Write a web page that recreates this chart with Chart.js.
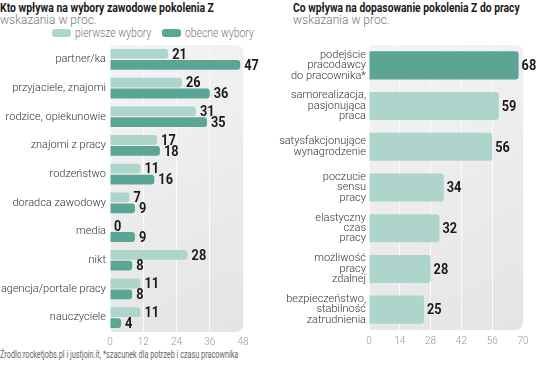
<!DOCTYPE html>
<html><head><meta charset="utf-8">
<script src="https://cdn.jsdelivr.net/npm/chart.js@4/dist/chart.umd.min.js"></script>
<style>
html,body{margin:0;padding:0;background:#fff;}
body{width:536px;height:380px;position:relative;overflow:hidden;font-family:Roboto,sans-serif;}
.t{position:absolute;font-weight:bold;font-size:12.5px;color:#1a1a1a;white-space:nowrap;transform-origin:0 0;}
.s{position:absolute;font-size:12px;color:#777;white-space:nowrap;font-weight:300;}
.legend{position:absolute;left:52px;top:27px;height:12px;display:flex;align-items:center;}
.sw{display:block;width:19px;height:8px;border-radius:3px;flex:none;}
.lbox{display:block;height:12px;position:relative;flex:none;margin-left:4px;}
.lg{position:absolute;left:0;top:-2px;font-size:12.5px;line-height:16px;color:#777;font-weight:300;white-space:nowrap;transform-origin:0 0;}
.src{position:absolute;left:0;top:349px;font-size:10px;color:#666;white-space:nowrap;transform-origin:0 0;}
canvas{position:absolute;}
</style></head><body>
<div class="t" style="left:0;top:0;">Kto wpływa na wybory zawodowe pokolenia Z</div>
<div class="s" style="left:0;top:13px;">wskazania w proc.</div>
<div class="t" style="left:293px;top:0;">Co wpływa na dopasowanie pokolenia Z do pracy</div>
<div class="s" style="left:293px;top:13px;">wskazania w proc.</div>
<div class="legend">
  <span class="sw" style="background:#aed5cc"></span>
  <span class="lbox" style="width:76px;"><span class="lg" id="lg1"></span></span>
  <span class="sw" style="background:#5aa594;margin-left:11px;"></span>
  <span class="lbox" style="width:69px;"><span class="lg" id="lg2"></span></span>
</div>
<div class="src" id="src">Źrodło:rocketjobs.pl i justjoin.it, *szacunek dla potrzeb i czasu pracownika</div>
<div style="position:absolute;left:0;top:0;width:268px;height:352px;"><canvas id="c1"></canvas></div>
<div style="position:absolute;left:270px;top:0;width:266px;height:352px;"><canvas id="c2"></canvas></div>
<script>
// ---- data ----
const leftCategories = ["partner/ka","przyjaciele, znajomi","rodzice, opiekunowie","znajomi z pracy","rodzeństwo","doradca zawodowy","media","nikt","agencja/portale pracy","nauczyciele"];
const firstChoice = [21,26,31,17,11,7,0,28,11,11];
const currentChoice = [47,36,35,18,16,9,9,8,8,4];
const seriesNames = ["pierwsze wybory","obecne wybory"];
const leftTicks = [0,12,24,36,48];

const rightCategories = [["podejście","pracodawcy","do pracownika*"],["samorealizacja,","pasjonująca","praca"],["satysfakcjonujące","wynagrodzenie"],["poczucie","sensu","pracy"],["elastyczny","czas","pracy"],["możliwość","pracy","zdalnej"],["bezpieczeństwo,","stabilność","zatrudnienia"]];
const rightValues = [68,59,56,34,32,28,25];
const rightTicks = [0,14,28,42,56,70];

const LIGHT = "#aed5cc", DARK = "#5aa594";
document.getElementById('lg1').textContent = seriesNames[0];
document.getElementById('lg2').textContent = seriesNames[1];

// fit titles / source / legend texts to reference widths
function fitW(el, w){ const r = el.scrollWidth; if(r>0) el.style.transform = "scaleX(" + (w/r) + ")"; }
const ts = document.querySelectorAll('.t');
fitW(ts[0], 214); fitW(ts[1], 227);
fitW(document.getElementById('src'), 238);
fitW(document.getElementById('lg1'), 76);
fitW(document.getElementById('lg2'), 69);

const panelPlugin = {
  id:'panel',
  beforeDraw(chart){
    const {ctx, chartArea:a} = chart;
    ctx.save();
    const g = ctx.createLinearGradient(a.left, a.top, a.right, a.bottom);
    g.addColorStop(0, "#f4f4f4"); g.addColorStop(1, "#e4e4e4");
    ctx.fillStyle = g;
    const r = 8, x=a.left, y=a.top, w=a.right-a.left, h=a.bottom-a.top;
    ctx.beginPath();
    ctx.moveTo(x, y); ctx.lineTo(x+w-r, y); ctx.quadraticCurveTo(x+w, y, x+w, y+r);
    ctx.lineTo(x+w, y+h-r); ctx.quadraticCurveTo(x+w, y+h, x+w-r, y+h);
    ctx.lineTo(x, y+h); ctx.closePath();
    ctx.fill();
    ctx.restore();
  }
};
const labelPlugin = {
  id:'vals',
  afterDatasetsDraw(chart, args, opts){
    const ctx = chart.ctx;
    ctx.save();
    ctx.fillStyle = "#1a1a1a";
    ctx.textBaseline = "middle";
    ctx.textAlign = "left";
    chart.data.datasets.forEach((ds, di) => {
      const meta = chart.getDatasetMeta(di);
      meta.data.forEach((bar, i) => {
        const v = ds.data[i];
        ctx.save();
        ctx.translate(bar.x + opts.gap, bar.y + 1);
        ctx.scale(opts.sx, 1);
        ctx.font = "bold " + opts.size + "px Roboto, sans-serif";
        ctx.fillText(String(v), 0, 0);
        ctx.restore();
      });
    });
    ctx.restore();
  }
};

const tickFont = {family:"Roboto", size:10, weight:300};

new Chart(document.getElementById('c1'), {
  type:'bar',
  data:{labels:leftCategories, datasets:[
    {label:seriesNames[0], data:firstChoice, backgroundColor:LIGHT, borderRadius:3, borderSkipped:'left', categoryPercentage:0.76, barPercentage:0.9},
    {label:seriesNames[1], data:currentChoice, backgroundColor:DARK, borderRadius:3, borderSkipped:'left', categoryPercentage:0.76, barPercentage:0.9}
  ]},
  options:{
    indexAxis:'y', responsive:true, maintainAspectRatio:false, animation:false,
    layout:{padding:{top:45, right:25, left:0, bottom:0}},
    plugins:{legend:{display:false}, tooltip:{enabled:false}, vals:{gap:4, size:15, sx:0.85}},
    scales:{
      x:{min:0, max:48, afterBuildTicks(s){ s.ticks = leftTicks.map(v=>({value:v})); },
         grid:{color:"#fbfbfb", lineWidth:1, drawTicks:false}, border:{display:false},
         ticks:{color:"#999", font:tickFont, padding:4}},
      y:{grid:{display:false, drawTicks:false}, border:{display:false},
         afterFit(s){ s.width = 110; },
         ticks:{color:"#333", font:{family:"Roboto", size:11, weight:300}, padding:4}}
    }
  },
  plugins:[panelPlugin, labelPlugin]
});

new Chart(document.getElementById('c2'), {
  type:'bar',
  data:{labels:rightCategories, datasets:[
    {data:rightValues, backgroundColor:rightValues.map((v,i)=> i===0 ? DARK : LIGHT), borderRadius:3, borderSkipped:'left', categoryPercentage:0.75, barPercentage:0.92}
  ]},
  options:{
    indexAxis:'y', responsive:true, maintainAspectRatio:false, animation:false,
    layout:{padding:{top:45, right:13, left:0, bottom:0}},
    plugins:{legend:{display:false}, tooltip:{enabled:false}, vals:{gap:3, size:15, sx:0.85}},
    scales:{
      x:{min:0, max:70, afterBuildTicks(s){ s.ticks = rightTicks.map(v=>({value:v})); },
         grid:{color:"#fbfbfb", lineWidth:1, drawTicks:false}, border:{display:false},
         ticks:{color:"#999", font:tickFont, padding:5}},
      y:{grid:{display:false, drawTicks:false}, border:{display:false},
         afterFit(s){ s.width = 99; },
         ticks:{color:"#333", font:{family:"Roboto", size:11, weight:300, lineHeight:0.95}, padding:3}}
    }
  },
  plugins:[panelPlugin, labelPlugin]
});
</script>
</body></html>
